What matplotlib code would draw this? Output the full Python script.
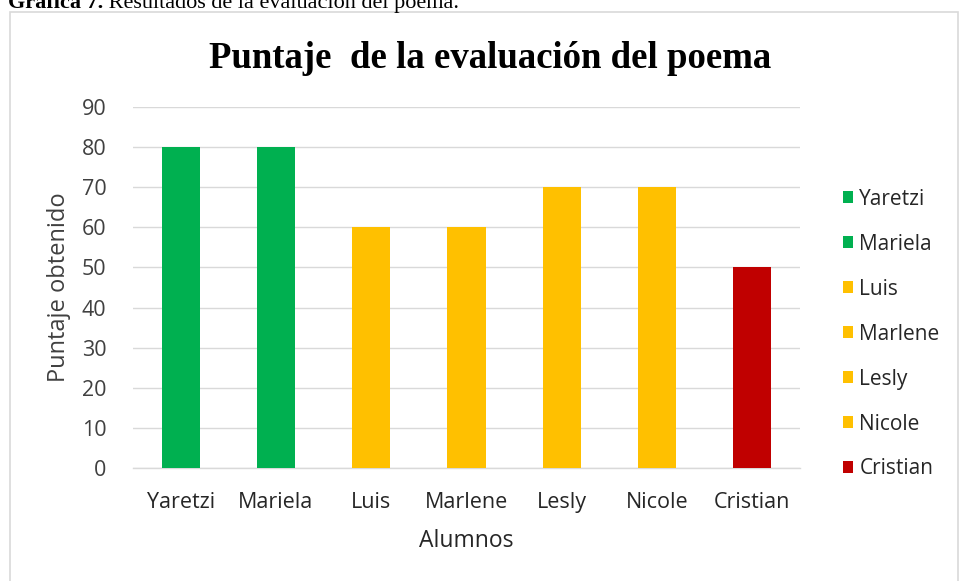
import matplotlib.pyplot as plt
from matplotlib.patches import Rectangle


# Puntajes
alumnos = ["Yaretzi", "Mariela", "Luis", "Marlene", "Lesly", "Nicole", "Cristian"]
puntajes = [80, 80, 60, 60, 70, 70, 50]
colores = ["#00b050", "#00b050", "#ffc000", "#ffc000", "#ffc000", "#ffc000", "#c00000"]
yticks = [0, 10, 20, 30, 40, 50, 60, 70, 80, 90]

plt.rcParams['font.family'] = ['Open Sans', 'DejaVu Sans']

fig = plt.figure(figsize=(9.6, 5.81), dpi=100)

# marco del grafico (como en Word)
fig.patches.append(Rectangle((10/960, -0.05), 948/960, 1.05 - 12/581,
                             transform=fig.transFigure, fill=False,
                             edgecolor="#d9d9d9", linewidth=1.2))

# pie de figura, cortado arriba como en el documento
cap = fig.text(8/960, 1 - 8/581, "Gráfica 7.", fontsize=16, va='baseline',
               family='Liberation Serif', weight='bold')
fig.add_artist(plt.matplotlib.text.Annotation(
    " Resultados de la evaluación del poema.", xy=(1, 0), xycoords=cap,
    va='bottom', ha='left', fontsize=16, family='Liberation Serif'))

ax = fig.add_axes([133/960, 1 - 468/581, 667/960, 361/581])

x = list(range(len(alumnos)))
for i in x:
    ax.bar(i, puntajes[i], width=0.4, color=colores[i], label=alumnos[i], zorder=3)

ax.set_xlim(-0.5, len(alumnos) - 0.5)
ax.set_ylim(0, 90)
ax.set_yticks(yticks)
ax.set_xticks(x)
ax.set_xticklabels(alumnos)
ax.tick_params(axis='both', length=0, labelsize=15.5, colors='#404040')
ax.tick_params(axis='x', pad=17, labelcolor='#262626')
ax.tick_params(axis='y', pad=19)
ax.grid(axis='y', color='#d9d9d9', linewidth=1, zorder=0)
for s in ['top', 'right', 'left']:
    ax.spines[s].set_visible(False)
ax.spines['bottom'].set_color('#d9d9d9')
ax.spines['bottom'].set_linewidth(1)

ax.set_ylabel("Puntaje obtenido", fontsize=17, color='#404040', labelpad=8)
ax.set_xlabel("Alumnos", fontsize=16.5, color='#262626', labelpad=12)

fig.text(490/960, 1 - 59/581, "Puntaje  de la evaluación del poema",
         fontsize=26.5, weight='bold', family='Liberation Serif', ha='center', va='center')

fig.legend(loc='upper left', bbox_to_anchor=(824/960, 1 - 170/581), frameon=False,
           fontsize=15, labelspacing=1.15, handlelength=0.5, handleheight=0.5,
           handletextpad=0.3, labelcolor='#262626')

fig.savefig("out.png", dpi=100)
